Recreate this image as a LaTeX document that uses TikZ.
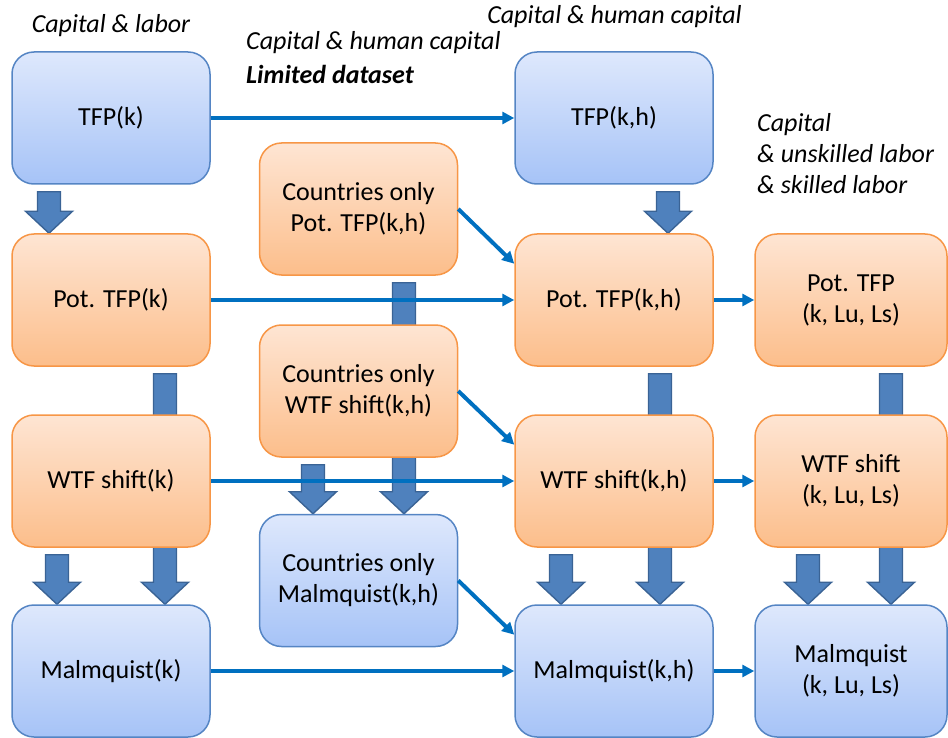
\documentclass[tikz,border=0pt]{standalone}
\usepackage{fontspec}
\setmainfont{Carlito}
\usetikzlibrary{calc,arrows.meta}

\definecolor{boxtopB}{HTML}{DEE8FC}
\definecolor{boxbotB}{HTML}{A6C3F7}
\definecolor{boxlineB}{HTML}{5585C4}
\definecolor{boxtopO}{HTML}{FEE5D3}
\definecolor{boxbotO}{HTML}{FCBE8B}
\definecolor{boxlineO}{HTML}{F79646}
\definecolor{fatfill}{HTML}{4F81BD}
\definecolor{fatline}{HTML}{3A6395}
\definecolor{linkblue}{HTML}{0070C0}

\pgfdeclarelayer{back}
\pgfsetlayers{back,main}

% thick block arrow below a box: xshift, from, to
\newcommand{\fatarrow}[3]{%
 \begin{pgfonlayer}{back}
  \path[fat] let \p1=([xshift=#1]#2.south), \p2=([xshift=#1]#3.north) in
   (\x1-11.5pt,\y1-7pt) -- (\x1+11.5pt,\y1-7pt) -- (\x1+11.5pt,\y2+22pt)
   -- (\x1+23.5pt,\y2+22pt) -- (\x1,\y2) -- (\x1-23.5pt,\y2+22pt)
   -- (\x1-11.5pt,\y2+22pt) -- cycle;
 \end{pgfonlayer}}

\begin{document}
\begin{tikzpicture}[x=1pt,y=-1pt,
  box/.style={rectangle,rounded corners=22pt,minimum width=198pt,minimum height=132pt,
    align=center,line width=1.5pt,font=\fontsize{26}{31}\selectfont},
  bluebox/.style={box,draw=boxlineB,top color=boxtopB,bottom color=boxbotB},
  orangebox/.style={box,draw=boxlineO,top color=boxtopO,bottom color=boxbotO},
  note/.style={inner sep=0pt,font=\fontsize{26}{31}\selectfont\itshape},
  link/.style={draw=linkblue,line width=4pt,-{Triangle[length=12pt,width=12pt]}},
  fat/.style={fill=fatfill,draw=fatline,line width=1.4pt,line join=miter}]
 \useasboundingbox (0,0) rectangle (948,738);

 % left column: capital & labor
 \node[bluebox] (tfp1) at (111,118) {TFP(k)};
 \node[orangebox] (pot1) at (111,300) {Pot. TFP(k)};
 \node[orangebox] (wtf1) at (111,481) {WTF shift(k)};
 \node[bluebox] (mal1) at (111,671) {Malmquist(k)};

 % limited dataset
 \node[orangebox] (cpot) at (358.5,209) {Countries only\\Pot. TFP(k,h)};
 \node[orangebox] (cwtf) at (358.5,391) {Countries only\\WTF shift(k,h)};
 \node[bluebox] (cmal) at (358.5,580.5) {Countries only\\Malmquist(k,h)};

 % capital & human capital
 \node[bluebox] (tfp3) at (614,118) {TFP(k,h)};
 \node[orangebox] (pot3) at (614,300) {Pot. TFP(k,h)};
 \node[orangebox] (wtf3) at (614,481) {WTF shift(k,h)};
 \node[bluebox] (mal3) at (614,671) {Malmquist(k,h)};

 % unskilled & skilled labor
 \node[orangebox,minimum width=192pt] (pot4) at (851,300) {Pot. TFP\\(k, Lu, Ls)};
 \node[orangebox,minimum width=192pt] (wtf4) at (851,481) {WTF shift\\(k, Lu, Ls)};
 \node[bluebox,minimum width=192pt] (mal4) at (851,671) {Malmquist\\(k, Lu, Ls)};

 \node[note] (lab1) at (111,26) {Capital \& labor};
 \node[note,anchor=west] (lab2) at (246,43) {Capital \& human capital};
 \node[note,anchor=west,font=\fontsize{26}{31}\selectfont\bfseries\itshape] (lab3) at (246,74) {Limited dataset};
 \node[note] (lab4) at (614.5,17) {Capital \& human capital};
 \node[note,anchor=north west,align=left,font=\fontsize{26}{31}\selectfont\itshape] (lab5) at (757,113)
  {Capital\\\& unskilled labor\\\& skilled labor};

 \fatarrow{-62pt}{tfp1}{pot1}
 \fatarrow{54pt}{tfp3}{pot3}
 \fatarrow{54pt}{pot1}{mal1}
 \fatarrow{-54pt}{wtf1}{mal1}
 \fatarrow{45.5pt}{cpot}{cmal}
 \fatarrow{-45.5pt}{cwtf}{cmal}
 \fatarrow{46pt}{pot3}{mal3}
 \fatarrow{-53pt}{wtf3}{mal3}
 \fatarrow{40pt}{pot4}{mal4}
 \fatarrow{-43pt}{wtf4}{mal4}

 \draw[link] (tfp1.east) -- (tfp3.west);
 \draw[link] (pot1.east) -- (pot3.west);
 \draw[link] (wtf1.east) -- (wtf3.west);
 \draw[link] (mal1.east) -- (mal3.west);
 \draw[link] (cpot.east) -- (pot3.160);
 \draw[link] (cwtf.east) -- (wtf3.160);
 \draw[link] (cmal.east) -- (mal3.160);
 \draw[link] (pot3.east) -- (pot4.west);
 \draw[link] (wtf3.east) -- (wtf4.west);
 \draw[link] (mal3.east) -- (mal4.west);
\end{tikzpicture}
\end{document}
